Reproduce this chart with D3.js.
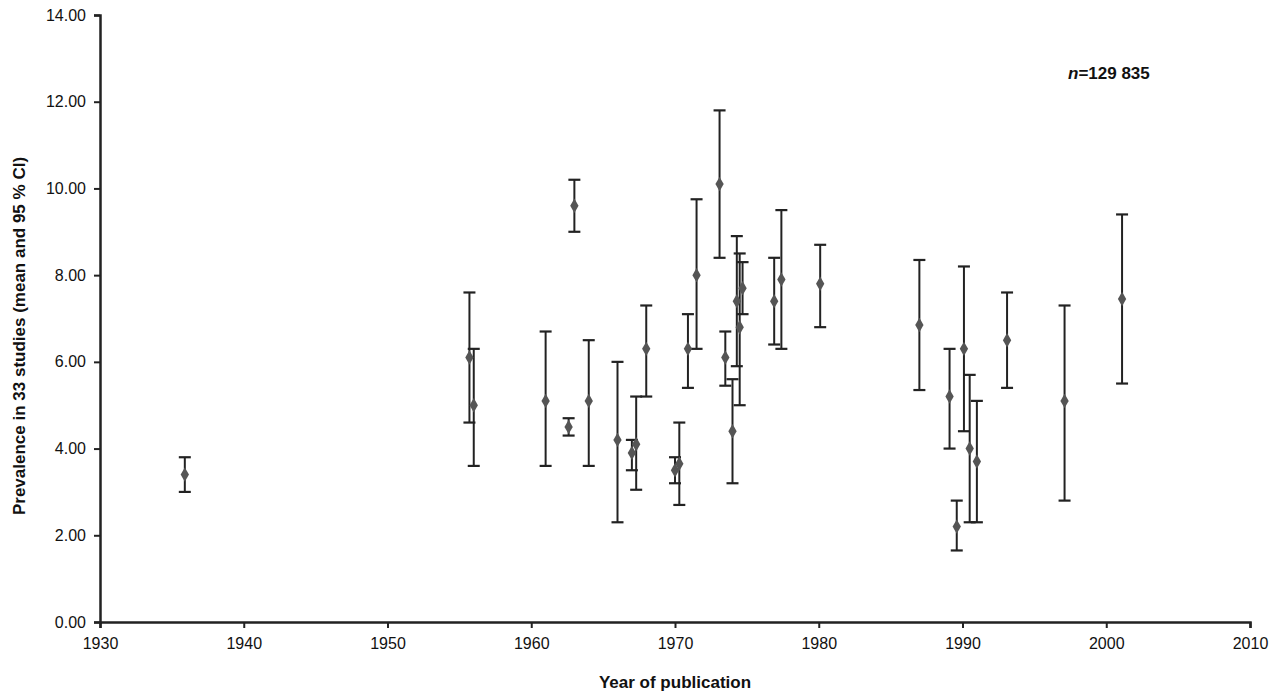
<!DOCTYPE html>
<html>
<head>
<meta charset="utf-8">
<script src="https://cdn.jsdelivr.net/npm/d3@7"></script>
<style>
html,body{margin:0;padding:0;background:#fff;}
svg{display:block;}
</style>
</head>
<body>
<svg id="chart" width="1280" height="694"></svg>
<script>
const years = [1935.9,1955.7,1956.0,1961.0,1962.6,1963.0,1964.0,1966.0,1967.0,1967.3,1968.0,1970.0,1970.3,1970.9,1971.5,1973.1,1973.5,1974.0,1974.3,1974.5,1974.7,1976.9,1977.4,1980.1,1987.0,1989.1,1989.6,1990.1,1990.5,1991.0,1993.1,1997.1,2001.1];
const means = [3.4,6.1,5.0,5.1,4.5,9.6,5.1,4.2,3.9,4.1,6.3,3.5,3.65,6.3,8.0,10.1,6.1,4.4,7.4,6.8,7.7,7.4,7.9,7.8,6.85,5.2,2.2,6.3,4.0,3.7,6.5,5.1,7.45];
const lower = [3.0,4.6,3.6,3.6,4.3,9.0,3.6,2.3,3.5,3.05,5.2,3.2,2.7,5.4,6.3,8.4,5.45,3.2,5.9,5.0,7.1,6.4,6.3,6.8,5.35,4.0,1.65,4.4,2.3,2.3,5.4,2.8,5.5];
const upper = [3.8,7.6,6.3,6.7,4.7,10.2,6.5,6.0,4.2,5.2,7.3,3.8,4.6,7.1,9.75,11.8,6.7,5.6,8.9,8.5,8.3,8.4,9.5,8.7,8.35,6.3,2.8,8.2,5.7,5.1,7.6,7.3,9.4];
const xTicks = [1930,1940,1950,1960,1970,1980,1990,2000,2010];
const yTicks = [0,2,4,6,8,10,12,14];
const xTitle = "Year of publication";
const yTitle = "Prevalence in 33 studies (mean and 95 % CI)";
const note = "129 835";

const svg = d3.select("#chart");
const L = 100, R = 1250, T = 15, B = 622;
const x = d3.scaleLinear().domain([1930,2010]).range([L,R]);
const y = d3.scaleLinear().domain([0,14]).range([B,T]);
const font = "'Liberation Sans', Arial, sans-serif";

const data = years.map((yr,i)=>({yr, m:means[i], lo:lower[i], hi:upper[i]}));

// error bars
const g = svg.append("g");
const bars = g.selectAll("g.bar").data(data).enter().append("g").attr("class","bar");
bars.append("line")
  .attr("x1",d=>x(d.yr)).attr("x2",d=>x(d.yr))
  .attr("y1",d=>y(d.lo)).attr("y2",d=>y(d.hi))
  .attr("stroke","#222").attr("stroke-width",2);
bars.append("line")
  .attr("x1",d=>x(d.yr)-6).attr("x2",d=>x(d.yr)+6)
  .attr("y1",d=>y(d.hi)).attr("y2",d=>y(d.hi))
  .attr("stroke","#222").attr("stroke-width",2.2);
bars.append("line")
  .attr("x1",d=>x(d.yr)-6).attr("x2",d=>x(d.yr)+6)
  .attr("y1",d=>y(d.lo)).attr("y2",d=>y(d.lo))
  .attr("stroke","#222").attr("stroke-width",2.2);
// diamonds
const sym = d3.symbol().type(d3.symbolDiamond).size(60);
g.selectAll("path.pt").data(data).enter().append("path")
  .attr("class","pt")
  .attr("d",sym)
  .attr("transform",d=>`translate(${x(d.yr)},${y(d.m)})`)
  .attr("fill","#555");

// axes
const xAxis = svg.append("g").attr("transform",`translate(0,${B})`)
  .call(d3.axisBottom(x).tickValues(xTicks).tickFormat(d3.format("d")).tickSize(6).tickSizeOuter(6));
const yAxis = svg.append("g").attr("transform",`translate(${L},0)`)
  .call(d3.axisLeft(y).tickValues(yTicks).tickFormat(d3.format(".2f")).tickSize(6).tickSizeOuter(6));
[xAxis,yAxis].forEach(a=>{
  a.select(".domain").attr("stroke","#222").attr("stroke-width",2.5);
  a.selectAll(".tick line").attr("stroke","#222").attr("stroke-width",2);
  a.selectAll(".tick text").attr("fill","#111").style("font-family",font).style("font-size","16px");
});
xAxis.selectAll(".tick text").attr("dy","1.15em");
yAxis.selectAll(".tick text").attr("x",-14);

// titles
svg.append("text").attr("x",675).attr("y",688).attr("text-anchor","middle")
  .style("font-family",font).style("font-size","17px").style("font-weight","bold").attr("fill","#111")
  .text(xTitle);
svg.append("text").attr("transform",`translate(25,336) rotate(-90)`).attr("text-anchor","middle")
  .style("font-family",font).style("font-size","17px").style("font-weight","bold").attr("fill","#111")
  .text(yTitle);

// note
const nt = svg.append("text").attr("x",1068).attr("y",79)
  .style("font-family",font).style("font-size","17px").style("font-weight","bold").attr("fill","#111");
nt.append("tspan").style("font-style","italic").text("n");
nt.append("tspan").text("=" + note);
</script>
</body>
</html>
